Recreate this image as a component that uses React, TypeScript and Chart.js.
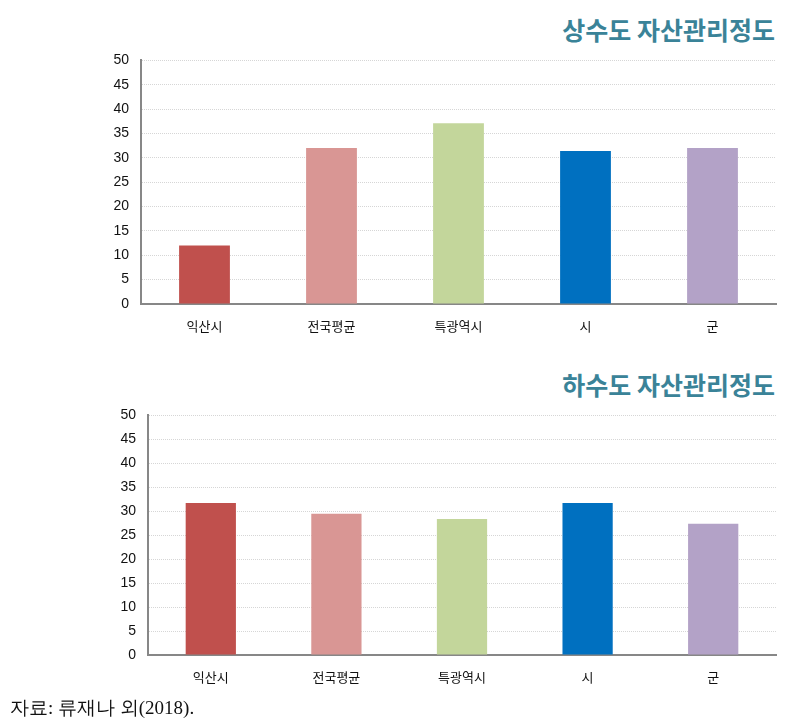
import React, { useEffect, useRef } from "react";
import { Chart, registerables } from "chart.js";

Chart.register(...registerables);

const categories = ["익산시", "전국평균", "특광역시", "시", "군"];
const waterValues = [12.0, 32.0, 37.1, 31.4, 32.0];
const sewerValues = [31.7, 29.5, 28.4, 31.7, 27.4];
const barColors = ["#C0504D", "#D99694", "#C3D69B", "#0070C0", "#B3A2C7"];
const waterTitle = "상수도 자산관리정도";
const sewerTitle = "하수도 자산관리정도";
const sourceText = "자료: 류재나 외(2018).";

function BarChart({ values, axisWidth, xHeight }: { values: number[]; axisWidth: number; xHeight: number }) {
  const ref = useRef<HTMLCanvasElement | null>(null);
  useEffect(() => {
    if (!ref.current) return;
    const chart = new Chart(ref.current, {
      type: "bar",
      data: {
        labels: categories,
        datasets: [
          {
            data: values,
            backgroundColor: barColors,
            barPercentage: 0.4,
            categoryPercentage: 1,
          },
        ],
      },
      options: {
        responsive: false,
        animation: false,
        maintainAspectRatio: false,
        layout: { padding: { top: 19, right: 22, left: 0, bottom: 0 } },
        plugins: { legend: { display: false }, tooltip: { enabled: false }, title: { display: false } },
        scales: {
          x: {
            grid: { display: false },
            border: { display: true, color: "#878787", width: 2 },
            ticks: {
              color: "#111",
              padding: 6,
              font: { family: "'Noto Sans CJK KR', 'Noto Sans', sans-serif", size: 13 },
            },
            afterFit: (s: any) => {
              s.height = xHeight;
            },
          },
          y: {
            min: 0,
            max: 50,
            ticks: {
              stepSize: 5,
              color: "#111",
              padding: 12,
              font: { family: "'Liberation Sans', Arial, sans-serif", size: 14 },
            },
            grid: {
              drawTicks: false,
              color: (ctx: any) => (ctx.tick && ctx.tick.value === 0 ? "rgba(0,0,0,0)" : "#d6d6d6"),
              lineWidth: 1,
            },
            border: { display: true, color: "#878787", width: 2, dash: [1, 1] },
            afterFit: (s: any) => {
              s.width = axisWidth;
            },
          },
        },
      },
    });
    return () => chart.destroy();
  }, []);
  return <canvas ref={ref} width={798} height={310} style={{ display: "block", width: 798, height: 310 }} />;
}

const titleStyle: React.CSSProperties = {
  position: "absolute",
  right: 23,
  fontFamily: "'Noto Sans CJK KR', sans-serif",
  fontWeight: 700,
  fontSize: 25,
  color: "#3A8398",
  lineHeight: "30px",
  whiteSpace: "nowrap",
};

export default function App() {
  return (
    <div style={{ position: "fixed", left: 0, top: 0, width: 798, height: 722, background: "#fff", overflow: "hidden" }}>
      <div style={{ ...titleStyle, top: 14 }}>{waterTitle}</div>
      <div style={{ position: "absolute", left: 0, top: 40 }}>
        <BarChart values={waterValues} axisWidth={141} xHeight={46} />
      </div>
      <div style={{ ...titleStyle, top: 369 }}>{sewerTitle}</div>
      <div style={{ position: "absolute", left: 0, top: 395 }}>
        <BarChart values={sewerValues} axisWidth={148} xHeight={50} />
      </div>
      <div
        style={{
          position: "absolute",
          left: 10,
          top: 695,
          fontFamily: "serif",
          fontSize: 19,
          color: "#111",
          lineHeight: "26px",
          whiteSpace: "nowrap",
        }}
      >
        {sourceText}
      </div>
    </div>
  );
}
